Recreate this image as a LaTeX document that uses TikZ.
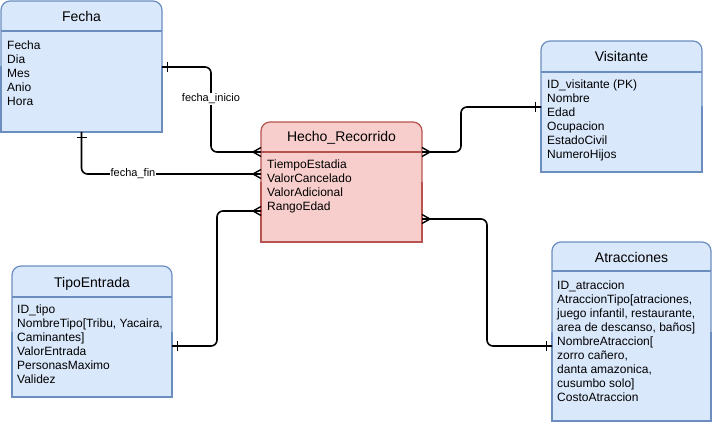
\documentclass[tikz,border=0pt]{standalone}
\usepackage{fontspec}
\setmainfont{Liberation Sans}
\definecolor{bfill}{HTML}{DAE8FC}
\definecolor{bline}{HTML}{6C8EBF}
\definecolor{rfill}{HTML}{F8CECC}
\definecolor{rline}{HTML}{B85450}
\begin{document}
\begin{tikzpicture}[x=1pt,y=-1pt,
  box/.style={draw=none,inner sep=0,outer sep=0,anchor=north west},
  ttl/.style={anchor=base,inner sep=0,font=\fontsize{14}{16}\selectfont},
  fld/.style={anchor=north west,inner sep=0,align=left,font=\fontsize{12}{14}\selectfont},
  lbl/.style={fill=white,inner sep=1pt,font=\fontsize{11}{13}\selectfont},
  conn/.style={draw=black,line width=1.6pt,rounded corners=6pt},
  endmark/.style={draw=black,line width=1.4pt},
  crow/.pic={\draw[endmark] (-8,0) -- (0,4.5) (-8,0) -- (0,-4.5);},
  onebar/.pic={\draw[endmark] (-5.5,-5) -- (-5.5,5);},
]
\useasboundingbox (0,0) rectangle (712,422);
\newcommand{\entity}[5]{% name, x, y, width, height
  \node[box,minimum width=#4,minimum height=#5] (#1) at (#2,#3) {};
}
\newcommand{\outline}[4]{% name, fill, line, header offset
  \draw[fill=#2,draw=#3,line width=1.2pt,rounded corners=9pt] (#1.north west) rectangle (#1.south east);
  \draw[fill=#2,draw=#3,line width=1.2pt] (#1.west) -- (#1.south west) -- (#1.south east) -- (#1.east);
  \draw[draw=#3,line width=1.2pt] ([yshift=-#4]#1.north west) -- ([yshift=-#4]#1.north east);
}
% entities
\entity{fecha}{1}{1}{161pt}{131pt}
\entity{hecho}{261}{122}{161pt}{120pt}
\entity{visit}{541}{41}{161pt}{131pt}
\entity{tipo}{12}{266}{160pt}{131pt}
\entity{atrac}{552}{242}{159pt}{179pt}
\outline{fecha}{bfill}{bline}{30pt}
\outline{hecho}{rfill}{rline}{30pt}
\outline{visit}{bfill}{bline}{31pt}
\outline{tipo}{bfill}{bline}{31pt}
\outline{atrac}{bfill}{bline}{29pt}
% titles
\node[ttl] (tfecha) at (81.5,22) {Fecha};
\node[ttl] (thecho) at (341.5,142) {Hecho\_Recorrido};
\node[ttl] (tvisit) at (621.5,62) {Visitante};
\node[ttl] (ttipo) at (92,287) {TipoEntrada};
\node[ttl] (tatrac) at (631.5,262) {Atracciones};
% fields
\node[fld] (ffecha) at (7,40.5) {Fecha\\Dia\\Mes\\Anio\\Hora};
\node[fld] (fhecho) at (267,159.5) {TiempoEstadia\\ValorCancelado\\ValorAdicional\\RangoEdad};
\node[fld] (fvisit) at (547,79.5) {ID\_visitante (PK)\\Nombre\\Edad\\Ocupacion\\EstadoCivil\\NumeroHijos};
\node[fld] (ftipo) at (17,304.5) {ID\_tipo\\NombreTipo[Tribu, Yacaira,\\Caminantes]\\ValorEntrada\\PersonasMaximo\\Validez};
\node[fld] (fatrac) at (557,280.5) {ID\_atraccion\\AtraccionTipo[atraciones,\\juego infantil, restaurante,\\area de descanso, baños]\\NombreAtraccion[\\zorro cañero,\\danta amazonica,\\cusumbo solo]\\CostoAtraccion};
% connection points
\coordinate (p1a) at ([yshift=-66pt]fecha.north east);
\coordinate (p1b) at ([yshift=-30pt]hecho.north west);
\coordinate (p2a) at (fecha.south);
\coordinate (p2b) at ([yshift=-52pt]hecho.north west);
\coordinate (p3a) at ([yshift=-30pt]hecho.north east);
\coordinate (p3b) at ([yshift=-66pt]visit.north west);
\coordinate (p4a) at ([yshift=-89pt]hecho.north west);
\coordinate (p4b) at ([yshift=-80pt]tipo.north east);
\coordinate (p5a) at ([yshift=-97pt]hecho.north east);
\coordinate (p5b) at ([yshift=-104pt]atrac.north west);
% connectors
\draw[conn] (p1a) -- (211,67) -- (211,152) -- (p1b);
\draw[conn] (p2a) -- (81.5,174) -- (p2b);
\draw[conn] (p3a) -- (461,152) -- (461,107) -- (p3b);
\draw[conn] (p4a) -- (217,211) -- (217,346) -- (p4b);
\draw[conn] (p5a) -- (487,219) -- (487,346) -- (p5b);
% ends
\pic at (p1b) {crow};
\pic at (p2b) {crow};
\pic[rotate=180] at (p1a) {onebar};
\pic[rotate=90] at (p2a) {onebar};
\pic[rotate=180] at (p3a) {crow};
\pic at (p3b) {onebar};
\pic at (p4a) {crow};
\pic[rotate=180] at (p4b) {onebar};
\pic[rotate=180] at (p5a) {crow};
\pic at (p5b) {onebar};
% labels
\node[lbl] (l1) at (211,99) {fecha\_inicio};
\node[lbl] (l2) at (133,174) {fecha\_fin};
\end{tikzpicture}
\end{document}
